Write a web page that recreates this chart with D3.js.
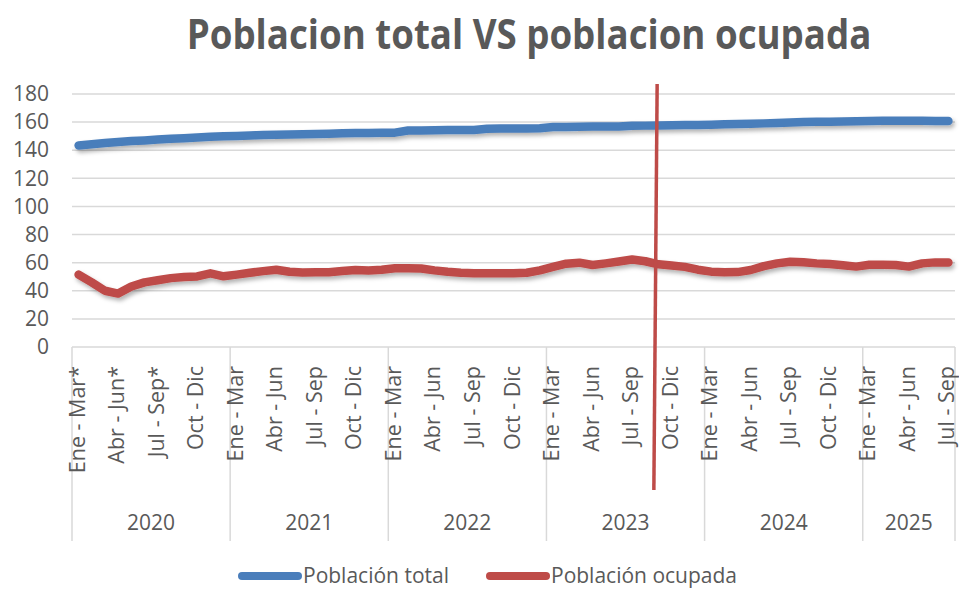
<!DOCTYPE html>
<html>
<head>
<meta charset="utf-8">
<script src="https://cdn.jsdelivr.net/npm/d3@7"></script>
<style>
  html, body { margin: 0; padding: 0; background: #fff; }
  svg { display: block; font-family: "Open Sans", "DejaVu Sans", sans-serif; }
</style>
</head>
<body>
<div id="chart"></div>
<script>
// rolling quarters (monthly), only every 3rd one gets a label
const years = ["2020", "2021", "2022", "2023", "2024", "2025"];
const yearCounts = [12, 12, 12, 12, 12, 7];
const periods = ["Ene - Mar", "Feb - Abr", "Mar - May", "Abr - Jun", "May - Jul", "Jun - Ago",
                 "Jul - Sep", "Ago - Oct", "Sep - Nov", "Oct - Dic", "Nov - Ene", "Dic - Feb"];
const starredYear = "2020";
const starredUntil = 9; // first 9 periods of 2020 carry a *

const yTicks = [0, 20, 40, 60, 80, 100, 120, 140, 160, 180];

const poblacionTotal = [
  143.4, 144.3, 145.2, 145.9, 146.5, 147.0, 147.6, 148.1, 148.6, 149.1, 149.6, 149.9,
  150.2, 150.5, 150.8, 151.0, 151.2, 151.4, 151.6, 151.8, 152.0, 152.2, 152.3, 152.4,
  152.5, 154.0, 154.1, 154.2, 154.3, 154.3, 154.4, 155.3, 155.4, 155.4, 155.5, 155.6,
  156.5, 156.6, 156.7, 156.8, 156.8, 156.9, 157.4, 157.5, 157.6, 157.7, 157.9, 158.0,
  158.2, 158.4, 158.6, 158.8, 159.1, 159.4, 159.7, 160.0, 160.2, 160.3, 160.5, 160.6,
  160.8, 160.9, 161.0, 161.0, 160.9, 160.8, 160.8
];
const poblacionOcupada = [
  51.5, 46.0, 40.0, 38.0, 43.0, 46.0, 47.5, 49.0, 49.8, 50.2, 52.4, 50.3,
  51.5, 52.8, 54.0, 55.0, 53.5, 53.0, 53.2, 53.2, 54.0, 54.8, 54.5, 55.0,
  56.0, 56.0, 55.8, 54.5, 53.5, 52.8, 52.4, 52.4, 52.4, 52.4, 52.8, 54.5,
  57.0, 59.3, 60.0, 58.3, 59.5, 60.8, 62.2, 61.0, 58.8, 58.0, 57.0, 55.0,
  53.6, 53.2, 53.3, 54.8, 57.5, 59.5, 60.7, 60.3, 59.5, 59.0, 58.2, 57.2,
  58.5, 58.5, 58.3, 57.2, 59.5, 60.2, 60.2
];
const seriesNames = ["Población total", "Población ocupada"];
const seriesColors = ["#4A7EBB", "#BE4B48"];
const title = "Poblacion total VS poblacion ocupada";
const markerAt = 43.8; // hand drawn vertical line, in category units

// categories
const cats = [];
years.forEach((yr, yi) => {
  for (let k = 0; k < yearCounts[yi]; k++) {
    let lab = periods[k];
    if (yr === starredYear && k < starredUntil) lab += "*";
    cats.push({ key: yr + "|" + k, year: yr, k: k, label: lab });
  }
});

const W = 959, H = 590;
const plotLeft = 72, plotRight = 955, plotTop = 94, plotBottom = 347;
const textColor = "#595959";
const gridColor = "#D9D9D9";

const svg = d3.select("#chart").append("svg")
  .attr("width", W).attr("height", H);

svg.append("rect").attr("width", W).attr("height", H).attr("fill", "#fff");

const defs = svg.append("defs");
const f = defs.append("filter").attr("id", "shadow")
  .attr("x", "-5%").attr("y", "-50%").attr("width", "110%").attr("height", "200%");
f.append("feDropShadow").attr("dx", 2).attr("dy", 3).attr("stdDeviation", 2)
  .attr("flood-color", "#000").attr("flood-opacity", 0.3);

const x = d3.scaleBand().domain(cats.map(d => d.key)).range([plotLeft, plotRight]).padding(0);
const px = key => x(key) + x.bandwidth() / 2;
const xi = d3.scaleLinear().domain([-0.5, cats.length - 0.5]).range([plotLeft, plotRight]);
const y = d3.scaleLinear().domain([0, 180]).range([plotBottom, plotTop]);

// title, squeezed horizontally to the narrow width of the original font
const titleText = svg.append("text")
  .attr("text-anchor", "middle")
  .attr("font-size", 42).attr("font-weight", 700)
  .attr("fill", textColor)
  .text(title);
const natural = titleText.node().getComputedTextLength();
titleText.attr("transform", `translate(529,49) scale(${685 / natural},1)`);

// gridlines
svg.append("g").selectAll("line")
  .data(yTicks.filter(t => t > 0))
  .join("line")
  .attr("x1", plotLeft).attr("x2", plotRight)
  .attr("y1", d => y(d)).attr("y2", d => y(d))
  .attr("stroke", gridColor).attr("stroke-width", 1.5);

// y axis labels
const yAxis = svg.append("g").attr("transform", `translate(${plotLeft},0)`)
  .call(d3.axisLeft(y).tickValues(yTicks).tickSize(0).tickPadding(23));
yAxis.select(".domain").remove();
yAxis.selectAll("text")
  .attr("font-size", 21).attr("font-family", "Open Sans")
  .attr("fill", textColor);

// category axis
svg.append("line")
  .attr("x1", plotLeft).attr("x2", plotRight)
  .attr("y1", y(0)).attr("y2", y(0))
  .attr("stroke", gridColor).attr("stroke-width", 1.5);

const yearStarts = cats.filter(d => d.k === 0);
svg.append("g").selectAll("line")
  .data(yearStarts.map(d => x(d.key)).concat([plotRight]))
  .join("line")
  .attr("x1", d => d).attr("x2", d => d)
  .attr("y1", y(0)).attr("y2", 541)
  .attr("stroke", gridColor).attr("stroke-width", 1.5);

svg.append("g").selectAll("text")
  .data(cats.filter(d => d.k % 3 === 0))
  .join("text")
  .attr("transform", d => `translate(${px(d.key) - 1.5},366) rotate(-90)`)
  .attr("dy", "0.35em")
  .attr("text-anchor", "end")
  .attr("font-size", 21.5)
  .attr("fill", textColor)
  .text(d => d.label);

svg.append("g").selectAll("text")
  .data(years)
  .join("text")
  .attr("x", yr => {
    const inYear = cats.filter(d => d.year === yr);
    return (x(inYear[0].key) + x(inYear[inYear.length - 1].key) + x.bandwidth()) / 2;
  })
  .attr("y", 523).attr("dy", "0.35em")
  .attr("text-anchor", "middle")
  .attr("font-size", 21)
  .attr("fill", textColor)
  .text(d => d);

// lines
const line = d3.line()
  .x((d, i) => px(cats[i].key))
  .y(d => y(d));

[poblacionTotal, poblacionOcupada].forEach((vals, si) => {
  svg.append("path")
    .datum(vals)
    .attr("fill", "none")
    .attr("stroke", seriesColors[si])
    .attr("stroke-width", 8.5)
    .attr("stroke-linecap", "round")
    .attr("stroke-linejoin", "round")
    .attr("filter", "url(#shadow)")
    .attr("d", line);
});

// vertical marker line
svg.append("line")
  .attr("x1", xi(markerAt + 0.1)).attr("y1", 84)
  .attr("x2", xi(markerAt - 0.15)).attr("y2", 490)
  .attr("stroke", seriesColors[1])
  .attr("stroke-width", 3.5);

// legend
const legendItems = [
  { name: seriesNames[0], color: seriesColors[0], x0: 242 },
  { name: seriesNames[1], color: seriesColors[1], x0: 490 }
];
const lg = svg.append("g").selectAll("g")
  .data(legendItems)
  .join("g")
  .attr("transform", d => `translate(${d.x0},576)`);
lg.append("line")
  .attr("x1", 0).attr("x2", 56).attr("y1", 0).attr("y2", 0)
  .attr("stroke", d => d.color).attr("stroke-width", 8)
  .attr("stroke-linecap", "round");
lg.append("text")
  .attr("x", 61).attr("dy", "0.35em")
  .attr("font-size", 21)
  .attr("fill", textColor)
  .text(d => d.name);
</script>
</body>
</html>
